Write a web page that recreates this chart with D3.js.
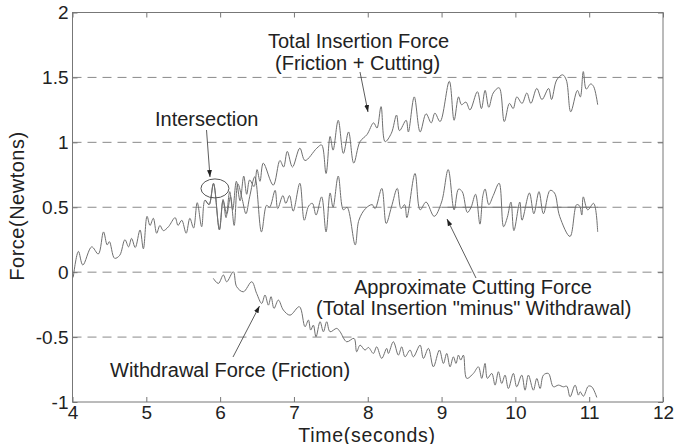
<!DOCTYPE html>
<html>
<head>
<meta charset="utf-8">
<script src="https://cdn.jsdelivr.net/npm/d3@7"></script>
<style>
	body { margin:0; background:#fff; }
	text { font-family:'Liberation Sans', Arial, sans-serif; fill:#222; }
</style>
</head>
<body>
<div id="container"></div>
<script>
// Data (time in seconds, force in Newtons)
var totalT = [4.01,4.08,4.14,4.26,4.35,4.42,4.47,4.50,4.57,4.64,4.71,4.76,4.80,4.85,4.915,4.96,5.01,5.05,5.095,5.14,5.185,5.23,5.30,5.39,5.43,5.48,5.54,5.59,5.64,5.69,5.75,5.795,5.85,5.91,5.99,6.04,6.08,6.13,6.17,6.22,6.27,6.32,6.36,6.40,6.46,6.50,6.54,6.585,6.72,6.81,6.86,6.91,6.98,7.08,7.15,7.31,7.375,7.435,7.49,7.53,7.60,7.67,7.74,7.81,7.895,7.99,8.08,8.125,8.18,8.235,8.32,8.39,8.43,8.52,8.55,8.63,8.71,8.79,8.86,8.91,8.98,9.105,9.17,9.23,9.27,9.33,9.385,9.485,9.54,9.59,9.64,9.70,9.78,9.85,9.92,9.97,10.02,10.09,10.155,10.21,10.29,10.36,10.45,10.49,10.56,10.64,10.69,10.75,10.84,10.88,10.92,10.96,11.02,11.06,11.115]
var totalF = [-0.04,0.16,0.055,0.195,0.14,0.31,0.21,0.235,0.107,0.13,0.25,0.195,0.26,0.19,0.325,0.18,0.43,0.36,0.415,0.30,0.36,0.32,0.35,0.42,0.36,0.40,0.30,0.415,0.34,0.535,0.35,0.555,0.52,0.685,0.325,0.56,0.42,0.62,0.48,0.70,0.55,0.74,0.60,0.71,0.66,0.79,0.70,0.84,0.67,0.86,0.81,0.93,0.81,0.955,0.86,0.955,0.98,0.76,1.045,0.94,1.17,0.915,1.08,0.84,1.005,1.06,1.15,1.11,1.275,1.005,1.07,1.21,1.09,1.17,1.08,1.35,1.08,1.22,1.15,1.225,1.16,1.47,1.17,1.35,1.29,1.31,1.25,1.39,1.26,1.40,1.27,1.38,1.42,1.16,1.30,1.26,1.35,1.30,1.38,1.30,1.415,1.33,1.415,1.33,1.48,1.52,1.48,1.235,1.40,1.35,1.545,1.41,1.45,1.43,1.29]

var cuttingT = [5.80,5.85,5.91,5.99,6.04,6.09,6.14,6.19,6.24,6.30,6.35,6.40,6.47,6.56,6.63,6.67,6.745,6.78,6.85,6.89,6.94,6.99,7.08,7.14,7.20,7.25,7.30,7.375,7.435,7.49,7.53,7.60,7.67,7.72,7.83,7.88,7.97,8.06,8.10,8.19,8.25,8.32,8.40,8.45,8.50,8.53,8.64,8.71,8.79,8.90,9.00,9.09,9.17,9.23,9.28,9.35,9.40,9.46,9.52,9.56,9.59,9.64,9.70,9.78,9.84,9.89,9.94,9.98,10.06,10.09,10.19,10.25,10.32,10.38,10.47,10.53,10.60,10.74,10.83,10.87,10.90,10.92,10.98,11.06,11.115]
var cuttingF = [0.555,0.52,0.68,0.33,0.55,0.45,0.58,0.36,0.68,0.56,0.45,0.58,0.735,0.31,0.515,0.50,0.63,0.49,0.59,0.53,0.59,0.47,0.685,0.40,0.51,0.53,0.44,0.58,0.31,0.61,0.50,0.74,0.48,0.50,0.21,0.40,0.49,0.52,0.49,0.645,0.375,0.50,0.645,0.49,0.52,0.42,0.76,0.48,0.54,0.43,0.54,0.79,0.48,0.64,0.62,0.46,0.50,0.60,0.37,0.59,0.64,0.52,0.59,0.685,0.35,0.42,0.54,0.32,0.54,0.40,0.61,0.45,0.62,0.45,0.63,0.61,0.43,0.275,0.52,0.51,0.44,0.58,0.48,0.53,0.31]

var withdrawT = [5.908,5.976,6.044,6.089,6.179,6.224,6.315,6.428,6.495,6.563,6.608,6.654,6.690,6.730,6.789,6.857,6.947,7.074,7.150,7.196,7.227,7.263,7.299,7.354,7.399,7.444,7.489,7.580,7.625,7.715,7.814,7.850,7.896,7.963,8.009,8.076,8.121,8.189,8.257,8.280,8.347,8.415,8.460,8.505,8.573,8.618,8.709,8.754,8.822,8.889,8.971,9.025,9.070,9.115,9.160,9.196,9.228,9.260,9.296,9.341,9.431,9.499,9.544,9.589,9.621,9.680,9.725,9.770,9.815,9.860,9.905,9.973,10.018,10.086,10.131,10.176,10.244,10.290,10.335,10.380,10.447,10.515,10.583,10.651,10.696,10.741,10.809,10.854,10.877,10.922,10.989,11.035,11.103]
var withdrawF = [-0.048,-0.087,-0.022,-0.074,0.003,-0.112,-0.151,-0.074,-0.164,-0.241,-0.176,-0.254,-0.189,-0.279,-0.215,-0.292,-0.331,-0.266,-0.420,-0.369,-0.446,-0.408,-0.498,-0.382,-0.459,-0.382,-0.459,-0.433,-0.459,-0.536,-0.510,-0.613,-0.562,-0.600,-0.580,-0.626,-0.575,-0.664,-0.587,-0.626,-0.536,-0.639,-0.575,-0.652,-0.600,-0.652,-0.562,-0.664,-0.587,-0.729,-0.600,-0.703,-0.626,-0.729,-0.652,-0.703,-0.639,-0.677,-0.639,-0.818,-0.780,-0.729,-0.818,-0.703,-0.818,-0.780,-0.870,-0.767,-0.857,-0.793,-0.896,-0.780,-0.883,-0.793,-0.909,-0.793,-0.909,-0.819,-0.896,-0.793,-0.780,-0.883,-0.870,-0.883,-0.878,-0.960,-0.870,-0.947,-0.921,-0.955,-0.878,-0.883,-0.965]

var xTicks = [4,5,6,7,8,9,10,11,12]
var yTicks = [-1,-0.5,0,0.5,1,1.5,2]
var gridLevels = [-0.5,0,0.5,1,1.5]

// Text notes
var notes = [
	{text:'Total Insertion Force', x:268, y:48},
	{text:'(Friction + Cutting)', x:275, y:70},
	{text:'Intersection', x:155, y:126},
	{text:'Approximate Cutting Force', x:354, y:294},
	{text:'(Total Insertion "minus" Withdrawal)', x:316, y:315},
	{text:'Withdrawal Force (Friction)', x:110, y:377}
]
var arrows = [
	{x1:360, y1:72, x2:368, y2:112},
	{x1:206.5, y1:130, x2:210, y2:177},
	{x1:476, y1:278, x2:447, y2:219},
	{x1:233, y1:357, x2:259.5, y2:306}
]

var width = 675, height = 444
var x = d3.scaleLinear().domain([4,12]).range([72.5,663])
var y = d3.scaleLinear().domain([-1,2]).range([402,12.5])

var svg = d3.select('#container').append('svg')
	.attr('width', width).attr('height', height)

var defs = svg.append('defs')
defs.append('marker').attr('id','head')
	.attr('viewBox','0 0 10 10').attr('refX',10).attr('refY',5)
	.attr('markerWidth',7).attr('markerHeight',7).attr('markerUnits','userSpaceOnUse')
	.attr('orient','auto')
	.append('path').attr('d','M0,1.5L10,5L0,8.5Z').attr('fill','#222')

// Dashed gridlines
svg.selectAll('.grid').data(gridLevels).enter().append('line')
	.attr('class','grid')
	.attr('x1', x(4)).attr('x2', x(12))
	.attr('y1', function(d) { return y(d) }).attr('y2', function(d) { return y(d) })
	.attr('stroke','#8a8a8a').attr('stroke-width',1).attr('stroke-dasharray','9,6')

// solid stretch of the 0.5 line under the cutting trace
svg.append('line')
	.attr('x1', x(9.0)).attr('x2', x(11.12))
	.attr('y1', y(0.5)).attr('y2', y(0.5))
	.attr('stroke','#777').attr('stroke-width',1)

// Axes, ticks pointing inward
var fmt = function(d) { return String(d) }
var axBottom = svg.append('g').attr('transform','translate(0,' + y(-1) + ')')
	.call(d3.axisBottom(x).tickValues(xTicks).tickFormat(fmt).tickSize(-5).tickPadding(4))
var axTop = svg.append('g').attr('transform','translate(0,' + y(2) + ')')
	.call(d3.axisTop(x).tickValues(xTicks).tickFormat('').tickSize(-5))
var axLeft = svg.append('g').attr('transform','translate(' + x(4) + ',0)')
	.call(d3.axisLeft(y).tickValues(yTicks).tickFormat(fmt).tickSize(-5).tickPadding(4))
var axRight = svg.append('g').attr('transform','translate(' + x(12) + ',0)')
	.call(d3.axisRight(y).tickValues(yTicks).tickFormat('').tickSize(-5))

;[axBottom, axTop, axLeft, axRight].map(function(g) {
	g.select('.domain').remove()
	g.selectAll('line').attr('stroke','#777')
	g.selectAll('text').attr('font-size','19px').attr('fill','#222')
		.style('font-family',"'Liberation Sans', Arial, sans-serif")
})

svg.append('rect')
	.attr('x', x(4)).attr('y', y(2))
	.attr('width', x(12) - x(4)).attr('height', y(-1) - y(2))
	.attr('fill','none').attr('stroke','#777').attr('stroke-width',1)

// Curves
var line = d3.line()
	.x(function(d) { return x(d[0]) })
	.y(function(d) { return y(d[1]) })
	.curve(d3.curveCatmullRom.alpha(0.5))

var series = [d3.zip(totalT, totalF), d3.zip(cuttingT, cuttingF), d3.zip(withdrawT, withdrawF)]
svg.selectAll('.trace').data(series).enter().append('path')
	.attr('class','trace')
	.attr('d', line)
	.attr('fill','none').attr('stroke','#6f6f6f').attr('stroke-width',1)

// Intersection ellipse
svg.append('ellipse')
	.attr('cx', x(5.93)).attr('cy', y(0.645))
	.attr('rx',14).attr('ry',9.5)
	.attr('fill','none').attr('stroke','#555').attr('stroke-width',1)

// Arrows and notes
svg.selectAll('.arrow').data(arrows).enter().append('line')
	.attr('class','arrow')
	.attr('x1', function(d) { return d.x1 }).attr('y1', function(d) { return d.y1 })
	.attr('x2', function(d) { return d.x2 }).attr('y2', function(d) { return d.y2 })
	.attr('stroke','#333').attr('stroke-width',0.8).attr('marker-end','url(#head)')

svg.selectAll('.note').data(notes).enter().append('text')
	.attr('class','note')
	.attr('x', function(d) { return d.x }).attr('y', function(d) { return d.y })
	.attr('font-size','20px')
	.text(function(d) { return d.text })

// Axis titles
svg.append('text')
	.attr('x', 367).attr('y', 441.5).attr('text-anchor','middle').attr('font-size','19.5px')
	.attr('letter-spacing','0.7px')
	.text('Time(seconds)')
svg.append('text')
	.attr('transform','translate(24,206) rotate(-90)')
	.attr('text-anchor','middle').attr('font-size','20px')
	.attr('letter-spacing','0.5px')
	.text('Force(Newtons)')
</script>
</body>
</html>
